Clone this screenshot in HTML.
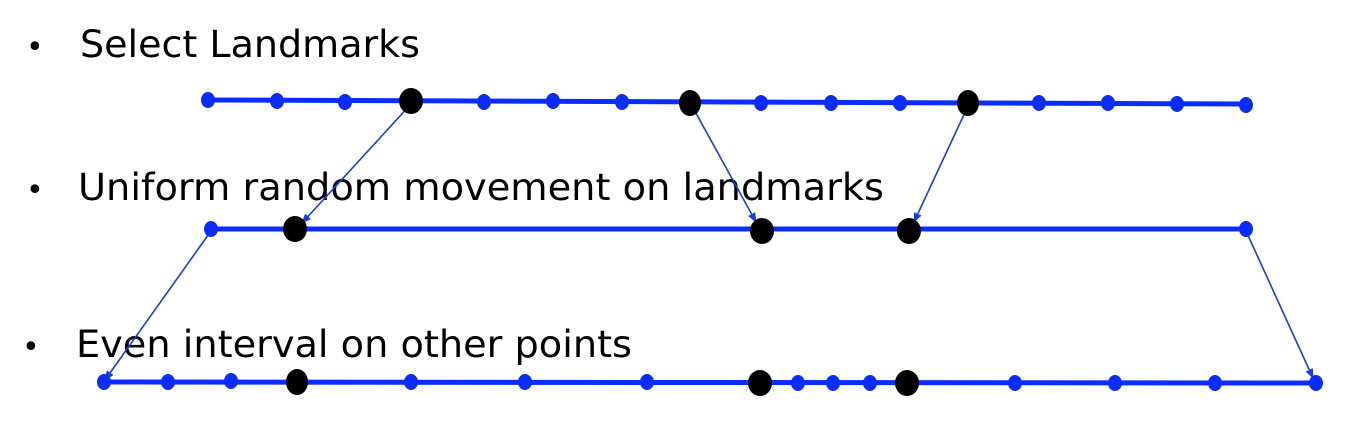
<!DOCTYPE html>
<html><head><meta charset="utf-8"><style>body{margin:0;background:#fff}svg{display:block}</style></head><body>
<svg width="1356" height="422" xmlns="http://www.w3.org/2000/svg" font-family="'DejaVu Sans','Liberation Sans',sans-serif">
<defs><marker id="a" markerWidth="10" markerHeight="10" refX="9" refY="5" orient="auto" markerUnits="userSpaceOnUse"><path d="M0,1 L10,5 L0,9 Z" fill="#1a3be8"/></marker></defs>
<g font-size="37" fill="#000">
<text x="26" y="57" font-size="30">•</text><text x="80" y="57" textLength="340" lengthAdjust="spacingAndGlyphs">Select Landmarks</text>
<text x="26" y="200" font-size="30">•</text><text x="78" y="200" textLength="806" lengthAdjust="spacingAndGlyphs">Uniform random movement on landmarks</text>
<text x="22" y="357" font-size="30">•</text><text x="76" y="357" textLength="556" lengthAdjust="spacingAndGlyphs">Even interval on other points</text>
</g>
<g stroke="#0a2cff" stroke-width="5">
<line x1="208" y1="100" x2="1246" y2="104"/>
<line x1="211" y1="229" x2="1246" y2="229"/>
<line x1="104" y1="382" x2="1316" y2="383"/>
</g>
<g stroke="#1a3be8" stroke-width="1.6" marker-end="url(#a)">
<line x1="411" y1="104" x2="302" y2="223"/>
<line x1="692" y1="106" x2="756" y2="222"/>
<line x1="968" y1="106" x2="914" y2="222"/>
<line x1="211" y1="231" x2="105" y2="380"/>
<line x1="1246" y1="231" x2="1313" y2="378"/>
</g>
<g fill="#0a2cff">
<ellipse cx="208" cy="100" rx="7" ry="8"/><ellipse cx="277" cy="101" rx="7" ry="8"/><ellipse cx="345" cy="102" rx="7" ry="8"/><ellipse cx="484" cy="102" rx="7" ry="8"/><ellipse cx="553" cy="101" rx="7" ry="8"/><ellipse cx="622" cy="102" rx="7" ry="8"/><ellipse cx="761" cy="103" rx="7" ry="8"/><ellipse cx="831" cy="103" rx="7" ry="8"/><ellipse cx="900" cy="103" rx="7" ry="8"/><ellipse cx="1039" cy="103" rx="7" ry="8"/><ellipse cx="1108" cy="103" rx="7" ry="8"/><ellipse cx="1177" cy="104" rx="7" ry="8"/><ellipse cx="1246" cy="105" rx="7" ry="8"/>
<ellipse cx="211" cy="229" rx="7" ry="8"/><ellipse cx="1246" cy="229" rx="7" ry="8"/>
<ellipse cx="104" cy="382" rx="7" ry="8"/><ellipse cx="168" cy="382" rx="7" ry="8"/><ellipse cx="231" cy="381" rx="7" ry="8"/><ellipse cx="411" cy="382" rx="7" ry="8"/><ellipse cx="525" cy="382" rx="7" ry="8"/><ellipse cx="647" cy="382" rx="7" ry="8"/><ellipse cx="798" cy="383" rx="7" ry="8"/><ellipse cx="833" cy="383" rx="7" ry="8"/><ellipse cx="870" cy="383" rx="7" ry="8"/><ellipse cx="1015" cy="383" rx="7" ry="8"/><ellipse cx="1115" cy="383" rx="7" ry="8"/><ellipse cx="1215" cy="383" rx="7" ry="8"/><ellipse cx="1316" cy="383" rx="7" ry="8"/>
</g>
<g fill="#000">
<ellipse cx="411" cy="101" rx="12" ry="13"/><ellipse cx="690" cy="103" rx="11" ry="13"/><ellipse cx="968" cy="103" rx="11" ry="13"/>
<ellipse cx="295" cy="229" rx="12" ry="13"/><ellipse cx="762" cy="231" rx="12" ry="13"/><ellipse cx="909" cy="231" rx="12" ry="13"/>
<ellipse cx="297" cy="382" rx="11" ry="13"/><ellipse cx="760" cy="383" rx="12" ry="13"/><ellipse cx="907" cy="383" rx="12" ry="13"/>
</g>
</svg>
</body></html>
